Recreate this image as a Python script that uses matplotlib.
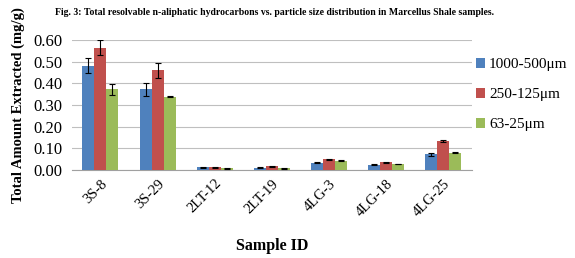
import numpy as np
import matplotlib
matplotlib.use("Agg")
import matplotlib.pyplot as plt

# 样品与粒径数据
samples = ["3S-8", "3S-29", "2LT-12", "2LT-19", "4LG-3", "4LG-18", "4LG-25"]
sizes = ["1000-500\u03bcm", "250-125\u03bcm", "63-25\u03bcm"]
coarse = [0.482, 0.372, 0.013, 0.010, 0.034, 0.025, 0.072]
medium = [0.564, 0.461, 0.013, 0.018, 0.049, 0.035, 0.134]
fine = [0.372, 0.338, 0.008, 0.008, 0.043, 0.028, 0.080]
coarse_err = [0.033, 0.030, 0.002, 0.002, 0.002, 0.002, 0.008]
medium_err = [0.035, 0.035, 0.002, 0.002, 0.003, 0.002, 0.003]
fine_err = [0.027, 0.003, 0.001, 0.001, 0.002, 0.002, 0.003]
colors = ["#4F81BD", "#C0504D", "#9BBB59"]

plt.rcParams['font.family'] = ['Liberation Serif', 'DejaVu Serif']

fig = plt.figure(figsize=(5.75, 2.58), dpi=100)
ax = fig.add_axes([0.125, 0.341, 0.696, 0.504])

x = np.arange(len(samples))
w = 0.21
series = [(coarse, coarse_err), (medium, medium_err), (fine, fine_err)]
for i, (vals, errs) in enumerate(series):
    ax.bar(x + (i - 1) * w, vals, w, yerr=errs, color=colors[i], label=sizes[i],
           error_kw=dict(ecolor='black', elinewidth=0.8, capsize=2, capthick=0.8),
           zorder=3)

ax.set_xlim(-0.5, len(samples) - 0.5)
ax.set_ylim(0, 0.6)
ax.set_yticks(np.arange(0, 0.61, 0.1))
ax.set_yticklabels([f"{v:.2f}" for v in np.arange(0, 0.61, 0.1)], fontsize=12)
ax.set_xticks(x)
ax.set_xticklabels(samples, rotation=45, ha='right', rotation_mode='anchor', fontsize=10.5)
ax.tick_params(axis='y', length=0, pad=7)
ax.tick_params(axis='x', length=0, pad=5)
ax.grid(axis='y', color='#BFBFBF', linewidth=0.8, zorder=0)
for s in ['top', 'right', 'left']:
    ax.spines[s].set_visible(False)
ax.spines['bottom'].set_color('#A0A0A0')

ax.set_ylabel("Total Amount Extracted (mg/g)", fontsize=10.5, fontweight='bold', labelpad=6)
ax.set_xlabel("Sample ID", fontsize=11.5, fontweight='bold', labelpad=14)

fig.text(0.477, 0.95, "Fig. 3: Total resolvable n-aliphatic hydrocarbons vs. particle size distribution in Marcellus Shale samples.",
         ha='center', va='center', fontsize=7, fontweight='bold')

ax.legend(loc='center left', bbox_to_anchor=(1.01, 0.58), frameon=False, fontsize=11,
          handlelength=0.6, handleheight=0.6, handletextpad=0.25, labelspacing=1.1,
          borderaxespad=0, borderpad=0)

fig.savefig("out.png", dpi=100)
